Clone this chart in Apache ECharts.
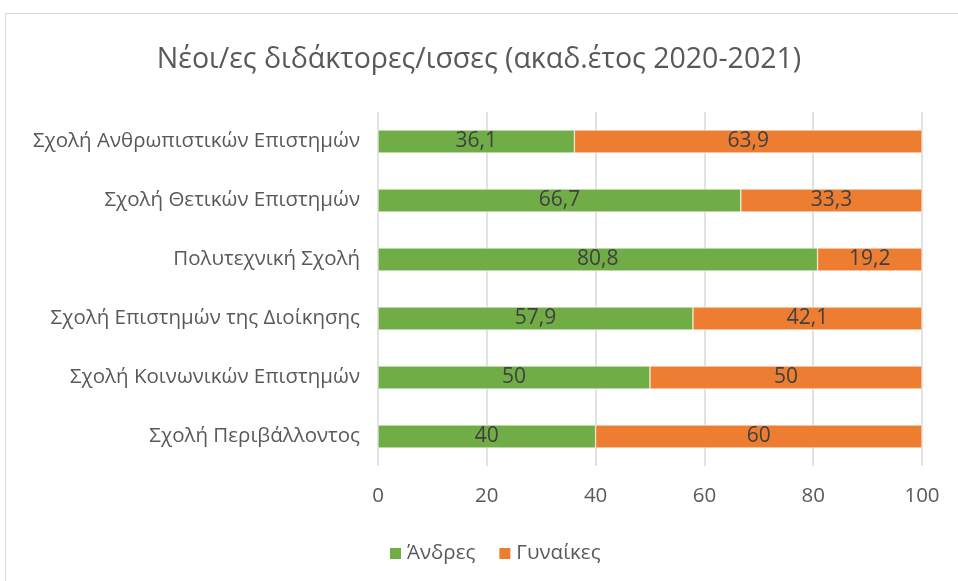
<!DOCTYPE html>
<html>
<head>
<meta charset="utf-8">
<script src="https://cdn.jsdelivr.net/npm/echarts@6/dist/echarts.min.js"></script>
<style>
  html, body { margin: 0; padding: 0; background: #fff; }
  #frame { position: absolute; left: 5px; top: 13px; width: 1000px; height: 600px; border: 1px solid #d9d9d9; box-sizing: border-box; }
  #chart { position: absolute; left: 0; top: 0; width: 958px; height: 581px; }
</style>
</head>
<body>
<div id="frame"></div>
<div id="chart"></div>
<script>
const categories = [
  "Σχολή Ανθρωπιστικών Επιστημών",
  "Σχολή Θετικών Επιστημών",
  "Πολυτεχνική Σχολή",
  "Σχολή Επιστημών της Διοίκησης",
  "Σχολή Κοινωνικών Επιστημών",
  "Σχολή Περιβάλλοντος"
];
const men = [36.1, 66.7, 80.8, 57.9, 50, 40];
const women = [63.9, 33.3, 19.2, 42.1, 50, 60];

const font = "Open Sans";
const fmt = p => String(p.value).replace(".", ",");

const chart = echarts.init(document.getElementById("chart"));
chart.setOption({
  animation: false,
  textStyle: { fontFamily: font },
  title: {
    text: "Νέοι/ες διδάκτορες/ισσες (ακαδ.έτος 2020-2021)",
    left: "center",
    top: 40,
    textStyle: { fontFamily: font, fontSize: 28.5, fontWeight: "normal", color: "#595959" }
  },
  legend: {
    bottom: 12,
    left: 383,
    itemWidth: 13,
    itemHeight: 13,
    itemGap: 22,
    icon: "rect",
    textStyle: { fontFamily: font, fontSize: 20.5, color: "#595959" },
    data: ["Άνδρες", "Γυναίκες"]
  },
  grid: { left: 378, right: 36, top: 112, bottom: 115 },
  xAxis: {
    type: "value",
    min: 0,
    max: 100,
    interval: 20,
    axisLine: { show: false },
    axisTick: { show: false },
    splitLine: { lineStyle: { color: "#d9d9d9", width: 1.5 } },
    axisLabel: { fontFamily: font, fontSize: 20.5, color: "#595959", margin: 20 }
  },
  yAxis: {
    type: "category",
    inverse: true,
    data: categories,
    axisLine: { show: false },
    axisTick: { show: false },
    axisLabel: { fontFamily: font, fontSize: 20.5, color: "#595959", margin: 18 }
  },
  series: [
    {
      name: "Άνδρες",
      type: "bar",
      stack: "total",
      barWidth: "39%",
      data: men,
      itemStyle: { color: "#70ad47", borderColor: "#fff", borderWidth: 0.5 },
      label: { show: true, position: "inside", formatter: fmt, fontFamily: font, fontSize: 21, color: "#404040" }
    },
    {
      name: "Γυναίκες",
      type: "bar",
      stack: "total",
      barWidth: "39%",
      data: women,
      itemStyle: { color: "#ed7d31", borderColor: "#fff", borderWidth: 0.5 },
      label: { show: true, position: "inside", formatter: fmt, fontFamily: font, fontSize: 21, color: "#404040" }
    }
  ]
});
</script>
</body>
</html>
